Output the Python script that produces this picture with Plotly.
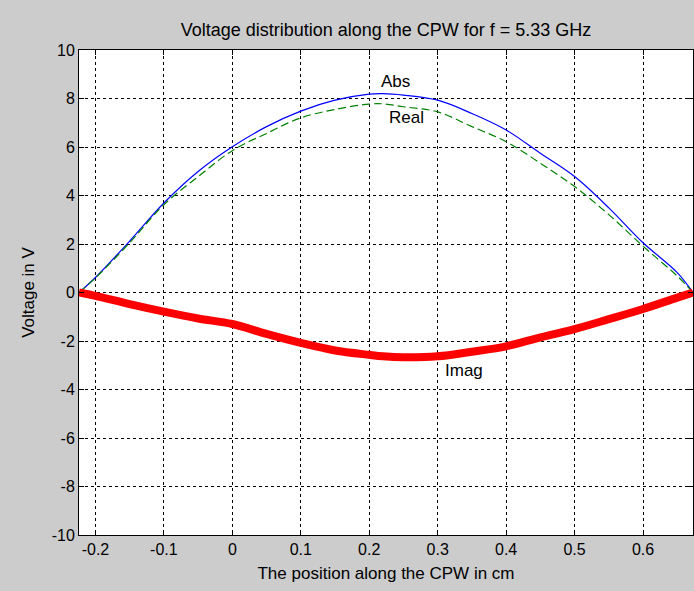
import plotly.graph_objects as go

# Position along the CPW (cm)
x_pos = [-0.224, -0.2, -0.15, -0.1, -0.05, 0.0, 0.05, 0.1, 0.15, 0.2, 0.22, 0.25,
         0.3, 0.35, 0.4, 0.45, 0.5, 0.55, 0.6, 0.65, 0.673]
# Voltage magnitude (V)
v_abs = [0.0, 0.62, 2.12, 3.69, 4.99, 6.01, 6.84, 7.48, 7.93, 8.18, 8.2, 8.14,
         7.93, 7.38, 6.70, 5.74, 4.78, 3.49, 2.05, 0.82, 0.0]
# Real part (V)
v_real = [0.0, 0.6, 2.05, 3.62, 4.78, 5.85, 6.56, 7.2, 7.55, 7.77, 7.78, 7.66,
          7.45, 6.84, 6.22, 5.33, 4.37, 3.21, 1.91, 0.68, 0.0]
# Imaginary part (V)
v_imag = [0.0, -0.14, -0.48, -0.79, -1.07, -1.30, -1.71, -2.08, -2.39, -2.57, -2.63, -2.67,
          -2.63, -2.44, -2.22, -1.85, -1.51, -1.10, -0.68, -0.21, 0.0]

x_ticks = [-0.2, -0.1, 0, 0.1, 0.2, 0.3, 0.4, 0.5, 0.6]
x_ticktext = ["-0.2", "-0.1", "0", "0.1", "0.2", "0.3", "0.4", "0.5", "0.6"]
y_ticks = [-10, -8, -6, -4, -2, 0, 2, 4, 6, 8, 10]
y_ticktext = ["-10", "-8", "-6", "-4", "-2", "0", "2", "4", "6", "8", "10"]

labels = ["Abs", "Real", "Imag"]
label_x = [0.239, 0.254, 0.339]
label_y = [8.72, 7.22, -3.22]

FONT = "Liberation Sans, Arial, sans-serif"

fig = go.Figure()
fig.add_trace(go.Scatter(x=x_pos, y=v_abs, mode="lines", line=dict(color="#0000ff", width=1.2),
                         name="Abs", line_shape="spline"))
fig.add_trace(go.Scatter(x=x_pos, y=v_real, mode="lines",
                         line=dict(color="#008000", width=1.2, dash="8px,4px"),
                         name="Real", line_shape="spline"))
fig.add_trace(go.Scatter(x=x_pos, y=v_imag, mode="lines", line=dict(color="#ff0000", width=8),
                         name="Imag", line_shape="spline"))

for t, lx, ly in zip(labels, label_x, label_y):
    fig.add_annotation(x=lx, y=ly, text=t, showarrow=False,
                       font=dict(family=FONT, size=17, color="black"))

axis_common = dict(
    showline=True, linecolor="black", linewidth=1, mirror="allticks",
    ticks="inside", ticklen=5, tickcolor="black", tickwidth=1,
    showgrid=True, gridcolor="black", gridwidth=1, griddash="3px,3px",
    zeroline=False, tickfont=dict(family=FONT, size=16, color="black"),
)

fig.update_xaxes(range=[-0.224, 0.673], tickvals=x_ticks, ticktext=x_ticktext,
                 title=dict(text="The position along the CPW in cm", standoff=9,
                            font=dict(family=FONT, size=17, color="black")),
                 **axis_common)
fig.update_yaxes(range=[-10, 10], tickvals=y_ticks, ticktext=y_ticktext,
                 title=dict(text="Voltage in V", standoff=12,
                            font=dict(family=FONT, size=17, color="black")),
                 **axis_common)

fig.update_layout(
    width=694, height=591,
    margin=dict(l=79, r=1, t=50, b=56),
    paper_bgcolor="#cccccc", plot_bgcolor="white",
    showlegend=False,
    title=dict(text="Voltage distribution along the CPW for f = 5.33 GHz",
               x=(79 + 693) / 2 / 694, xanchor="center", y=1 - 30 / 591, yanchor="middle",
               font=dict(family=FONT, size=18, color="black")),
)

fig.write_html("out.html")
